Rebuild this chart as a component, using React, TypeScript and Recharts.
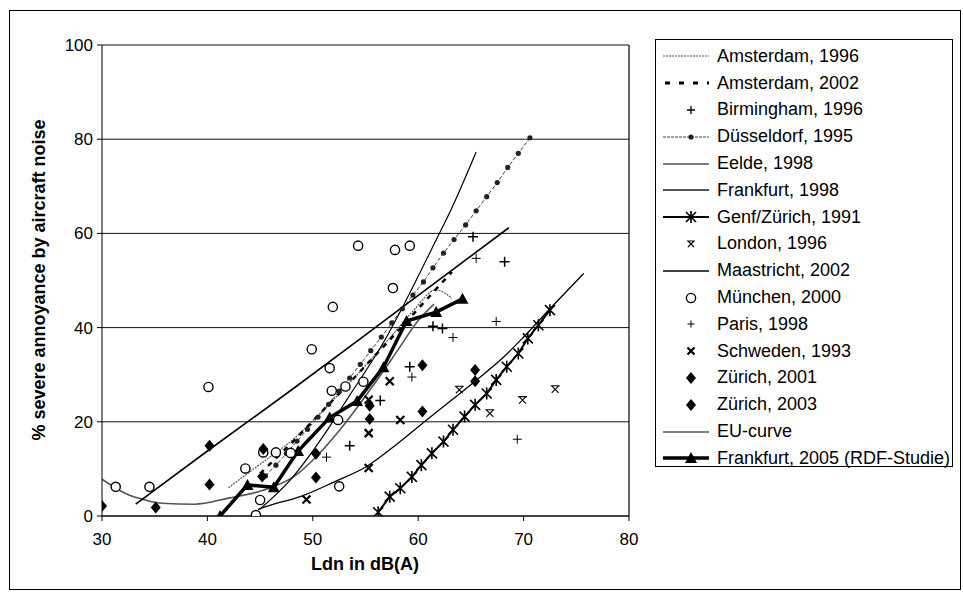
import React from 'react';
import {
    ComposedChart,
    Line,
    Scatter,
    XAxis,
    YAxis,
    CartesianGrid,
    ReferenceLine
} from 'recharts';

const FONT = '"Liberation Sans", Arial, Helvetica, sans-serif';

const xTicks = [30, 40, 50, 60, 70, 80];
const yTicks = [0, 20, 40, 60, 80, 100];

// [Ldn, % highly annoyed]
const amsterdam1996: [number, number][] = [
    [42, 6], [45, 11], [48, 16], [51, 22.5], [54, 29.5], [57, 37], [59.5, 43.5], [61.7, 48], [63.2, 46.2]
];
const amsterdam2002: [number, number][] = [
    [45, 9], [48, 15.5], [51, 22.5], [54, 29.5], [57.3, 37.4], [60, 44], [62.2, 49.4], [63.2, 51.8]
];
const birmingham1996: [number, number][] = [
    [53.5, 14.9], [56.4, 24.5], [59.2, 31.7], [61.4, 40.3], [62.3, 39.8], [65.2, 59.3], [68.2, 54]
];
const duesseldorf1995: [number, number][] = [
    [45.5, 8.5], [46.5, 10.8], [47.5, 13.3], [48.5, 15.9], [49.5, 18.4], [50.5, 21], [51.5, 23.7],
    [52.5, 26.5], [53.5, 29.3], [54.5, 32.2], [55.5, 35.1], [56.5, 38], [57.5, 41], [58.5, 44],
    [59.5, 46.9], [60.5, 49.7], [61.4, 52.7], [62.4, 55.8], [63.4, 58.7], [64.5, 61.8], [65.5, 64.8],
    [66.5, 67.8], [67.5, 70.8], [68.5, 74], [69.5, 77], [70.6, 80.3]
];
const eelde1998: [number, number][] = [
    [45, 1.5], [48, 8], [51, 17], [53.2, 24.6], [57, 38], [58.3, 43.4], [61.7, 58.6], [63, 64.5], [65.5, 77.3]
];
const frankfurt1998: [number, number][] = [
    [30, 7.8], [32.5, 4.5], [34.1, 3.4], [35.7, 2.7], [38.8, 2.5], [42, 3.8], [45.2, 5.4], [48.3, 8.5],
    [50.5, 13], [53, 19.5], [55.5, 27], [58, 35], [60, 41.5], [61.5, 45]
];
const genfZuerich1991: [number, number][] = [
    [56.2, 0.8], [57.3, 4.1], [58.3, 5.9], [59.4, 8.3], [60.3, 10.8], [61.3, 13.3], [62.4, 15.8],
    [63.3, 18.3], [64.4, 21.1], [65.4, 23.6], [66.5, 26], [67.4, 28.9], [68.4, 31.7], [69.5, 34.5],
    [70.4, 37.7], [71.4, 40.5], [72.5, 43.7]
];
const london1996: [number, number][] = [
    [63.9, 26.8], [66.8, 21.8], [69.9, 24.6], [73, 26.9]
];
const maastricht2002: [number, number][] = [
    [33.2, 2.5], [40, 13.8], [48, 26.8], [58, 43.5], [68.6, 61.2]
];
const muenchen2000: [number, number][] = [
    [31.3, 6.2], [34.5, 6.2], [40.1, 27.4], [43.6, 10.1], [44.6, 0.2], [45, 3.4], [45.3, 13.5],
    [46.5, 13.5], [47.9, 13.4], [49.9, 35.4], [51.6, 31.4], [51.8, 26.6], [51.9, 44.4], [52.4, 20.4],
    [52.5, 6.3], [53.1, 27.5], [54.3, 57.4], [54.8, 28.5], [57.6, 48.4], [57.8, 56.5], [59.2, 57.4]
];
const paris1998: [number, number][] = [
    [51.3, 12.5], [59.4, 29.5], [63.3, 37.9], [65.5, 54.7], [67.4, 41.3], [69.4, 16.3]
];
const schweden1993: [number, number][] = [
    [49.4, 3.5], [55.3, 10.2], [55.3, 17.6], [55.3, 24.7], [57.3, 28.6], [58.3, 20.4]
];
const zuerich2001: [number, number][] = [
    [30, 2.1], [35.1, 1.8], [40.2, 6.7], [45.3, 14.2], [50.3, 8.2], [55.4, 20.6], [60.4, 22.2], [65.4, 28.6]
];
const zuerich2003: [number, number][] = [
    [40.2, 14.9], [45.2, 8.4], [50.3, 13.2], [55.4, 23.4], [60.4, 32], [65.4, 31]
];
const euCurve: [number, number][] = [
    [44.8, 1.4], [46, 2.3], [48.8, 4.1], [52, 7.2], [55.1, 10.5], [58, 15.3], [60.8, 20.4], [63, 24.3],
    [65.6, 29], [67.8, 33.1], [70, 38], [72.5, 44], [75.7, 51.5]
];
const frankfurt2005: [number, number][] = [
    [41.2, 0], [43.8, 6.6], [46.3, 6.1], [48.6, 13.8], [51.6, 20.9], [54.2, 24.4], [56.7, 31.6],
    [58.9, 41.4], [61.7, 43.3], [64.2, 46.1]
];

const pts = (arr: [number, number][]) => arr.map(([x, y]) => ({ x, y }));

// marker shapes
const PlusMark = ({ cx, cy, r = 5, w = 1.4 }: any) => (
    <path d={`M${cx - r},${cy}H${cx + r}M${cx},${cy - r}V${cy + r}`} stroke="#000" strokeWidth={w} fill="none" />
);
const RingMark = ({ cx, cy }: any) => (
    <circle cx={cx} cy={cy} r={4.6} fill="#fff" stroke="#000" strokeWidth={1.4} />
);
const DiamondMark = ({ cx, cy }: any) => (
    <path d={`M${cx},${cy - 6}L${cx + 5},${cy}L${cx},${cy + 6}L${cx - 5},${cy}Z`} fill="#000" />
);
// bold x (Schweden)
const XMark = ({ cx, cy, r = 4, w = 2.2 }: any) => (
    <path
        d={`M${cx - r},${cy - r}L${cx + r},${cy + r}M${cx + r},${cy - r}L${cx - r},${cy + r}`}
        stroke="#000" strokeWidth={w} fill="none"
    />
);
// thin x with a cap (London)
const CapXMark = ({ cx, cy, r = 3.5 }: any) => (
    <path
        d={`M${cx - r},${cy - r}L${cx + r},${cy + r}M${cx + r},${cy - r}L${cx - r},${cy + r}M${cx - r - 1},${cy - r}H${cx + r + 1}`}
        stroke="#000" strokeWidth={1.1} fill="none"
    />
);
const StarMark = ({ cx, cy }: any) => (
    <path
        d={`M${cx - 5},${cy - 5}L${cx + 5},${cy + 5}M${cx + 5},${cy - 5}L${cx - 5},${cy + 5}M${cx},${cy - 6}V${cy + 6}`}
        stroke="#000" strokeWidth={1.6} fill="none"
    />
);
const TriMark = ({ cx, cy }: any) => (
    <path d={`M${cx},${cy - 6}L${cx + 6},${cy + 5}L${cx - 6},${cy + 5}Z`} fill="#000" />
);
const DotMark = ({ cx, cy }: any) => <circle cx={cx} cy={cy} r={2.6} fill="#222" />;

const legendRows: { label: string; icon: (cx: number, cy: number) => React.ReactNode }[] = [
    { label: 'Amsterdam, 1996', icon: (cx, cy) => <line x1={2} x2={48} y1={cy} y2={cy} stroke="#555" strokeWidth={1.2} strokeDasharray="2 1" /> },
    { label: 'Amsterdam, 2002', icon: (cx, cy) => <line x1={4} x2={48} y1={cy} y2={cy} stroke="#000" strokeWidth={3} strokeDasharray="5 9" /> },
    { label: 'Birmingham, 1996', icon: (cx, cy) => <PlusMark cx={cx} cy={cy} r={4} w={1.3} /> },
    {
        label: 'Düsseldorf, 1995', icon: (cx, cy) => (
            <g>
                <line x1={2} x2={48} y1={cy} y2={cy} stroke="#444" strokeWidth={1} strokeDasharray="3 1" />
                <DotMark cx={cx} cy={cy} />
            </g>
        )
    },
    { label: 'Eelde, 1998', icon: (cx, cy) => <line x1={2} x2={48} y1={cy} y2={cy} stroke="#000" strokeWidth={1.2} /> },
    { label: 'Frankfurt, 1998', icon: (cx, cy) => <line x1={2} x2={48} y1={cy} y2={cy} stroke="#555" strokeWidth={2} /> },
    {
        label: 'Genf/Zürich, 1991', icon: (cx, cy) => (
            <g>
                <line x1={2} x2={48} y1={cy} y2={cy} stroke="#000" strokeWidth={2.2} />
                <StarMark cx={cx} cy={cy} />
            </g>
        )
    },
    { label: 'London, 1996', icon: (cx, cy) => <CapXMark cx={cx} cy={cy} r={3} /> },
    { label: 'Maastricht, 2002', icon: (cx, cy) => <line x1={2} x2={48} y1={cy} y2={cy} stroke="#000" strokeWidth={1.6} /> },
    { label: 'München, 2000', icon: (cx, cy) => <RingMark cx={cx} cy={cy} /> },
    { label: 'Paris, 1998', icon: (cx, cy) => <PlusMark cx={cx} cy={cy} r={3.5} w={1} /> },
    { label: 'Schweden, 1993', icon: (cx, cy) => <XMark cx={cx} cy={cy} r={3.5} w={2.2} /> },
    { label: 'Zürich, 2001', icon: (cx, cy) => <DiamondMark cx={cx} cy={cy} /> },
    { label: 'Zürich, 2003', icon: (cx, cy) => <DiamondMark cx={cx} cy={cy} /> },
    { label: 'EU-curve', icon: (cx, cy) => <line x1={2} x2={48} y1={cy} y2={cy} stroke="#000" strokeWidth={1.2} /> },
    {
        label: 'Frankfurt, 2005 (RDF-Studie)', icon: (cx, cy) => (
            <g>
                <line x1={2} x2={48} y1={cy} y2={cy} stroke="#000" strokeWidth={3.5} />
                <TriMark cx={cx} cy={cy} />
            </g>
        )
    }
];

function ChartLegend() {
    return (
        <div
            style={{
                position: 'absolute',
                left: 655,
                top: 39,
                width: 298,
                height: 428,
                boxSizing: 'border-box',
                border: '1px solid #000',
                background: '#fff',
                paddingTop: 3
            }}
        >
            {legendRows.map((row) => (
                <div key={row.label} style={{ display: 'flex', alignItems: 'center', height: 26.8 }}>
                    <svg width={56} height={20} style={{ flex: 'none', marginLeft: 5 }}>
                        {row.icon(30, 10)}
                    </svg>
                    <span style={{ fontFamily: FONT, fontSize: 18, color: '#000', whiteSpace: 'nowrap' }}>
                        {row.label}
                    </span>
                </div>
            ))}
        </div>
    );
}

export default function App() {
    return (
        <div style={{ position: 'absolute', left: 0, top: 0, width: 963, height: 600, background: '#fff' }}>
            <div
                style={{
                    position: 'absolute',
                    left: 9,
                    top: 10,
                    width: 952,
                    height: 580,
                    boxSizing: 'border-box',
                    border: '1.5px solid #000'
                }}
            />
            <ComposedChart width={963} height={600} margin={{ top: 45, right: 334, bottom: 54, left: 42 }}>
                <CartesianGrid vertical={false} stroke="#111" strokeWidth={1} />
                <XAxis
                    type="number"
                    dataKey="x"
                    domain={[30, 80]}
                    ticks={xTicks}
                    interval={0}
                    allowDataOverflow
                    height={30}
                    tickSize={5}
                    tickMargin={12}
                    axisLine={{ stroke: '#000' }}
                    tickLine={{ stroke: '#000' }}
                    tick={{ fill: '#000', fontSize: 17, fontFamily: FONT }}
                    label={{
                        content: () => (
                            <text x={365} y={570} textAnchor="middle" fontFamily={FONT} fontSize={18} fontWeight="bold" fill="#000">
                                Ldn in dB(A)
                            </text>
                        )
                    }}
                />
                <YAxis
                    type="number"
                    domain={[0, 100]}
                    ticks={yTicks}
                    interval={0}
                    allowDataOverflow
                    width={60}
                    tickSize={5}
                    tickMargin={4}
                    axisLine={{ stroke: '#000' }}
                    tickLine={{ stroke: '#000' }}
                    tick={{ fill: '#000', fontSize: 17, fontFamily: FONT }}
                    label={{
                        content: () => (
                            <text
                                x={39}
                                y={280}
                                transform="rotate(-90 39 280)"
                                textAnchor="middle"
                                dominantBaseline="central"
                                fontFamily={FONT}
                                fontSize={18}
                                fontWeight="bold"
                                fill="#000"
                            >
                                % severe annoyance by aircraft noise
                            </text>
                        )
                    }}
                />
                <ReferenceLine x={80} stroke="#000" strokeWidth={1.2} />

                <Line data={pts(frankfurt1998)} dataKey="y" type="monotone" stroke="#555" strokeWidth={1.6} dot={false} activeDot={false} isAnimationActive={false} />
                <Line data={pts(amsterdam1996)} dataKey="y" type="monotone" stroke="#555" strokeWidth={1.2} strokeDasharray="2 1" dot={false} activeDot={false} isAnimationActive={false} />
                <Line data={pts(amsterdam2002)} dataKey="y" type="linear" stroke="#000" strokeWidth={2.5} strokeDasharray="5 6" dot={false} activeDot={false} isAnimationActive={false} />
                <Line
                    data={pts(duesseldorf1995)}
                    dataKey="y"
                    type="linear"
                    stroke="#444"
                    strokeWidth={1}
                    strokeDasharray="4 2"
                    dot={(p: any) => <DotMark key={`d${p.index}`} cx={p.cx} cy={p.cy} />}
                    activeDot={false}
                    isAnimationActive={false}
                />
                <Line data={pts(eelde1998)} dataKey="y" type="monotone" stroke="#000" strokeWidth={1.2} dot={false} activeDot={false} isAnimationActive={false} />
                <Line data={pts(maastricht2002)} dataKey="y" type="monotone" stroke="#000" strokeWidth={1.6} dot={false} activeDot={false} isAnimationActive={false} />
                <Line data={pts(euCurve)} dataKey="y" type="monotone" stroke="#000" strokeWidth={1.3} dot={false} activeDot={false} isAnimationActive={false} />
                <Line
                    data={pts(genfZuerich1991)}
                    dataKey="y"
                    type="linear"
                    stroke="#000"
                    strokeWidth={2}
                    dot={(p: any) => <StarMark key={`g${p.index}`} cx={p.cx} cy={p.cy} />}
                    activeDot={false}
                    isAnimationActive={false}
                />
                <Line
                    data={pts(frankfurt2005)}
                    dataKey="y"
                    type="linear"
                    stroke="#000"
                    strokeWidth={3.5}
                    dot={(p: any) => <TriMark key={`f${p.index}`} cx={p.cx} cy={p.cy} />}
                    activeDot={false}
                    isAnimationActive={false}
                />

                <Scatter data={pts(birmingham1996)} dataKey="y" shape={(p: any) => <PlusMark cx={p.cx} cy={p.cy} r={5} w={1.5} />} isAnimationActive={false} />
                <Scatter data={pts(paris1998)} dataKey="y" shape={(p: any) => <PlusMark cx={p.cx} cy={p.cy} r={4.5} w={1} />} isAnimationActive={false} />
                <Scatter data={pts(london1996)} dataKey="y" shape={(p: any) => <CapXMark cx={p.cx} cy={p.cy} r={3.5} />} isAnimationActive={false} />
                <Scatter data={pts(schweden1993)} dataKey="y" shape={(p: any) => <XMark cx={p.cx} cy={p.cy} r={4} w={2.2} />} isAnimationActive={false} />
                <Scatter data={pts(muenchen2000)} dataKey="y" shape={(p: any) => <RingMark cx={p.cx} cy={p.cy} />} isAnimationActive={false} />
                <Scatter data={pts(zuerich2001)} dataKey="y" shape={(p: any) => <DiamondMark cx={p.cx} cy={p.cy} />} isAnimationActive={false} />
                <Scatter data={pts(zuerich2003)} dataKey="y" shape={(p: any) => <DiamondMark cx={p.cx} cy={p.cy} />} isAnimationActive={false} />
            </ComposedChart>
            <ChartLegend />
        </div>
    );
}
